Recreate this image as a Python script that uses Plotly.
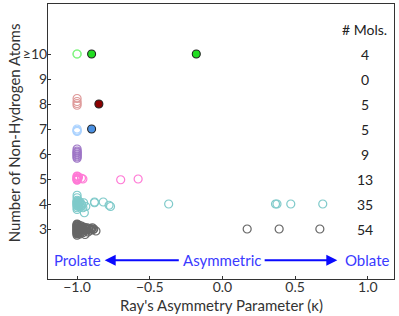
import plotly.graph_objects as go

# ---------------- data ----------------
x10_open = [-1.0, -1.0]
y10_open = [10.0, 10.0]
x10_fill = [-0.9, -0.18]
y10_fill = [10.0, 10.0]

x8_open = [-1.0, -1.0, -1.0, -1.0]
y8_open = [8.22, 8.1, 8.02, 7.95]
x8_fill = [-0.85]
y8_fill = [8.0]

x7_open = [-1.0, -1.0, -1.0, -1.0]
y7_open = [7.0, 6.95, 6.9, 6.93]
x7_fill = [-0.9]
y7_fill = [7.0]

x6 = [-1.0, -1.0, -1.0, -1.0, -1.0, -1.0, -1.0, -1.0, -1.0]
y6 = [6.2, 6.12, 6.05, 6.0, 5.97, 5.92, 5.88, 5.83, 6.08]

x5 = [-1.0, -1.0, -1.0, -1.0, -1.0, -0.99, -1.0, -0.995, -1.0, -0.97, -0.96, -0.70, -0.58]
y5 = [5.1, 5.05, 5.0, 4.97, 5.02, 5.08, 4.95, 5.0, 5.12, 5.03, 5.0, 4.97, 5.0]

x4 = [-1.0, -1.0, -1.0, -1.0, -1.0, -1.0, -1.0, -1.0, -1.0, -1.0,
      -1.0, -1.0, -0.995, -0.99, -0.99, -0.985, -0.98, -0.98, -0.975, -0.97,
      -0.965, -0.96, -0.955, -0.95, -0.94, -0.88, -0.88, -0.82, -0.78, -0.77,
      -0.37, 0.365, 0.375, 0.47, 0.69]
y4 = [4.35, 4.25, 4.15, 4.08, 4.02, 3.98, 3.92, 3.85, 3.78, 4.05,
      3.95, 4.1, 4.0, 4.12, 3.9, 4.03, 3.97, 4.08, 3.88, 4.0,
      3.95, 3.85, 4.05, 3.65, 3.9, 4.05, 4.08, 4.08, 3.95, 3.9,
      4.0, 4.0, 4.0, 4.0, 4.0]

x3 = [-1.0, -1.0, -1.0, -1.0, -1.0, -1.0, -1.0, -1.0, -1.0, -1.0,
      -1.0, -1.0, -1.0, -1.0, -1.0, -1.0, -1.0, -1.0, -0.995, -0.995,
      -0.99, -0.99, -0.99, -0.985, -0.985, -0.98, -0.98, -0.98, -0.975, -0.97,
      -0.97, -0.965, -0.96, -0.96, -0.955, -0.95, -0.95, -0.945, -0.94, -0.935,
      -0.93, -0.93, -0.925, -0.92, -0.91, -0.905, -0.9, -0.895, -0.89, -0.885,
      -0.87, 0.17, 0.39, 0.67]
y3 = [3.2, 3.15, 3.1, 3.05, 3.0, 2.95, 2.9, 2.85, 2.8, 2.75,
      3.12, 3.02, 2.97, 2.92, 3.08, 2.88, 3.18, 2.82, 3.0, 3.1,
      2.95, 3.05, 2.85, 3.15, 2.9, 3.0, 3.08, 2.8, 2.95, 3.02,
      3.12, 2.9, 3.05, 2.85, 3.0, 2.95, 3.07, 2.78, 3.02, 2.92,
      3.05, 2.98, 2.88, 3.0, 3.02, 2.95, 3.0, 3.05, 2.98, 3.0,
      2.92, 3.0, 3.0, 3.0]

count_rows = [10, 9, 8, 7, 6, 5, 4, 3]
count_labels = ["4", "0", "5", "5", "9", "13", "35", "54"]

ytick_vals = [3, 4, 5, 6, 7, 8, 9, 10]
ytick_text = ["3", "4", "5", "6", "7", "8", "9", "≥10"]
xtick_vals = [-1.0, -0.5, 0.0, 0.5, 1.0]
xtick_text = ["−1.0", "−0.5", "0.0", "0.5", "1.0"]

FONT = "Lato"
TXT = "#333333"
fig = go.Figure()


def open_trace(x, y, color, alpha):
    fig.add_trace(go.Scatter(
        x=x, y=y, mode="markers", opacity=alpha,
        marker=dict(symbol="circle-open", size=8, color=color,
                    line=dict(width=1.2, color=color)),
        showlegend=False, hoverinfo="skip"))


def fill_trace(x, y, color):
    fig.add_trace(go.Scatter(
        x=x, y=y, mode="markers",
        marker=dict(symbol="circle", size=8, color=color,
                    line=dict(width=1.1, color="#222222")),
        showlegend=False, hoverinfo="skip"))


open_trace(x3, y3, "#000000", 0.6)
open_trace(x4, y4, "#18a0a0", 0.55)
open_trace(x5, y5, "#ff22bb", 0.6)
open_trace(x6, y6, "#6a2ca8", 0.65)
open_trace(x7_open, y7_open, "#5aa8ff", 0.5)
open_trace(x8_open, y8_open, "#c03838", 0.5)
open_trace(x10_open, y10_open, "#22ee22", 0.55)
fill_trace(x7_fill, y7_fill, "#4a90e2")
fill_trace(x8_fill, y8_fill, "#8b0000")
fill_trace(x10_fill, y10_fill, "#22dd22")

annotations = []
annotations.append(dict(x=0.98, y=11, xref="x", yref="y", text="# Mols.",
                        showarrow=False, font=dict(family=FONT, size=14, color="#222")))
for r, lab in zip(count_rows, count_labels):
    annotations.append(dict(x=0.98, y=r, xref="x", yref="y", text=lab,
                            showarrow=False, font=dict(family=FONT, size=14, color="#222")))

BLUE = "#3a3aff"
annotations += [
    dict(x=-1.0, y=1.75, xref="x", yref="y", text="Prolate", showarrow=False,
         font=dict(family=FONT, size=15, color=BLUE)),
    dict(x=0.0, y=1.75, xref="x", yref="y", text="Asymmetric", showarrow=False,
         font=dict(family=FONT, size=15, color=BLUE)),
    dict(x=1.0, y=1.75, xref="x", yref="y", text="Oblate", showarrow=False,
         font=dict(family=FONT, size=15, color=BLUE)),
    dict(x=-0.81, y=1.75, ax=-0.29, ay=1.75, xref="x", yref="y", axref="x", ayref="y",
         text="", showarrow=True, arrowhead=2, arrowsize=1.1, arrowwidth=2, arrowcolor="#0a0aff"),
    dict(x=0.79, y=1.75, ax=0.28, ay=1.75, xref="x", yref="y", axref="x", ayref="y",
         text="", showarrow=True, arrowhead=2, arrowsize=1.1, arrowwidth=2, arrowcolor="#0a0aff"),
    # axis titles
    dict(x=0.5, y=0, xref="paper", yref="paper", yanchor="top", yshift=-15,
         text="Ray's Asymmetry Parameter (κ)", showarrow=False,
         font=dict(family=FONT, size=15, color=TXT)),
    dict(x=0, y=0.53, xref="paper", yref="paper", xanchor="center", xshift=-34,
         textangle=-90, text="Number of Non-Hydrogen Atoms", showarrow=False,
         font=dict(family=FONT, size=15, color=TXT)),
]

fig.update_layout(
    width=399, height=316,
    margin=dict(l=48, r=5, t=4, b=37, autoexpand=False),
    paper_bgcolor="white", plot_bgcolor="white",
    annotations=annotations,
    font=dict(family=FONT, size=14, color=TXT),
)
fig.update_xaxes(
    range=[-1.2, 1.18], tickvals=xtick_vals, ticktext=xtick_text,
    showgrid=False, zeroline=False, showline=True, linecolor="#333", linewidth=1,
    mirror=True, ticks="inside", ticklen=3, tickcolor="#333", automargin=False,
    ticklabelstandoff=-5,
    tickfont=dict(family=FONT, size=14, color=TXT),
)
fig.update_yaxes(
    range=[1, 12], tickvals=ytick_vals, ticktext=ytick_text,
    showgrid=False, zeroline=False, showline=True, linecolor="#333", linewidth=1,
    mirror=True, ticks="inside", ticklen=3, tickcolor="#333", automargin=False,
    ticklabelstandoff=-3,
    tickfont=dict(family=FONT, size=14, color=TXT),
)

fig.write_html("out.html", config={"displayModeBar": False},
               post_script="document.body.style.margin='0';document.body.style.overflow='hidden';")
